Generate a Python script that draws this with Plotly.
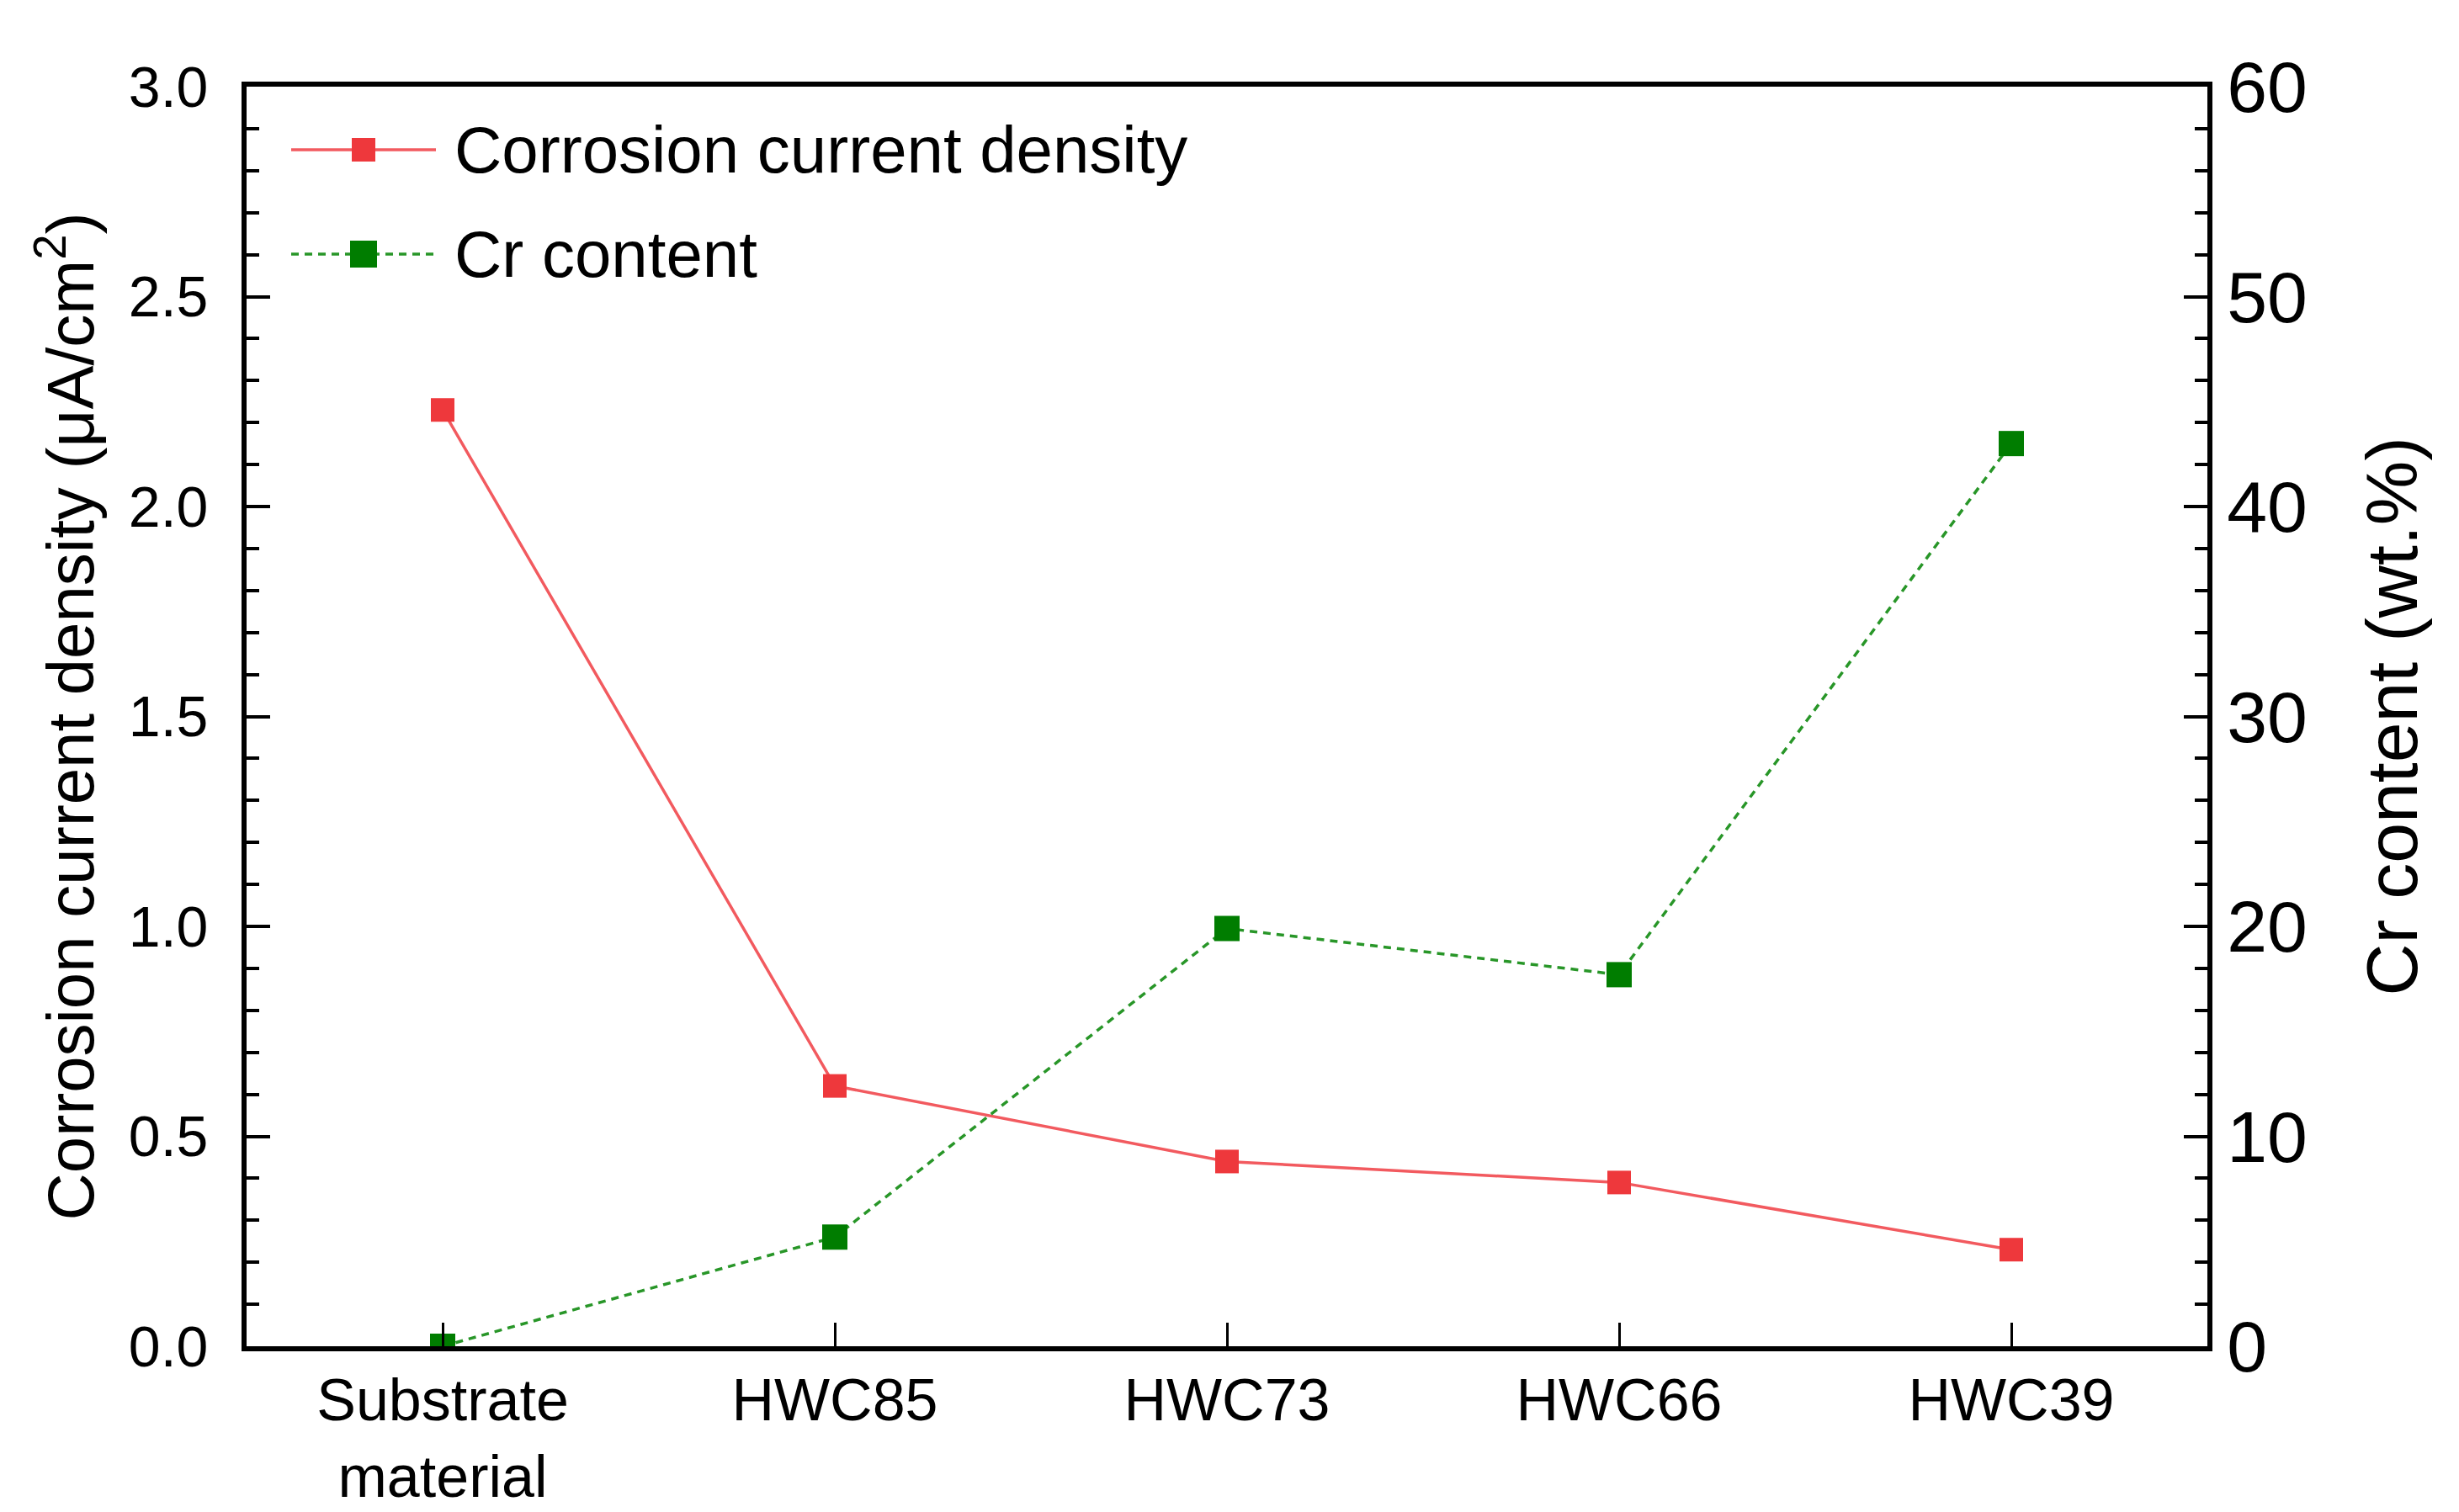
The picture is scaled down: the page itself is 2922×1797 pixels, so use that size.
import plotly.graph_objects as go

categories = ["Substrate<br>material", "HWC85", "HWC73", "HWC66", "HWC39"]
current_density = [2.23, 0.62, 0.44, 0.39, 0.23]
cr_content = [0.0, 5.2, 19.9, 17.7, 43.0]

left_ticks = [0.0, 0.5, 1.0, 1.5, 2.0, 2.5, 3.0]
left_ticktext = ["0.0", "0.5", "1.0", "1.5", "2.0", "2.5", "3.0"]
right_ticks = [0, 10, 20, 30, 40, 50, 60]

series_names = ["Corrosion current density", "Cr content"]

FONT = "Arial, Liberation Sans, sans-serif"
RED = "rgb(238,56,60)"
RED_LINE = "rgb(242,90,95)"
GREEN = "rgb(0,125,0)"
GREEN_LINE = "rgb(40,150,40)"
GREEN_DASH = "9px,7px"

W, H = 2922, 1797
L, R, T, B = 285, 307, 95, 205
PW, PH = W - L - R, H - T - B


def px_x(px):
    return (px - L) / PW


def px_y(py):
    return (H - B - py) / PH


fig = go.Figure()
fig.add_trace(go.Scatter(
    x=categories, y=current_density, name=series_names[0],
    mode="lines+markers",
    line=dict(color=RED_LINE, width=3.5),
    marker=dict(symbol="square", size=28, color=RED),
    yaxis="y", showlegend=False,
))
fig.add_trace(go.Scatter(
    x=categories, y=cr_content, name=series_names[1],
    mode="lines+markers",
    line=dict(color=GREEN_LINE, width=3.5, dash=GREEN_DASH),
    marker=dict(symbol="square", size=30, color=GREEN),
    yaxis="y2", showlegend=False,
))

# Custom legend (long sample lines with large square markers)
legend_rows = [170, 294]
legend_styles = [
    dict(line=RED_LINE, dash="solid", marker=RED, half=14),
    dict(line=GREEN_LINE, dash=GREEN_DASH, marker=GREEN, half=16),
]
shapes = []
annotations = []
for name, row, st in zip(series_names, legend_rows, legend_styles):
    yy = px_y(row)
    shapes.append(dict(type="line", xref="paper", yref="paper",
                       x0=px_x(338), x1=px_x(510), y0=yy, y1=yy,
                       line=dict(color=st["line"], width=3.5, dash=st["dash"])))
    shapes.append(dict(type="rect", xref="paper", yref="paper",
                       xsizemode="pixel", ysizemode="pixel",
                       xanchor=px_x(424), yanchor=yy,
                       x0=-st["half"], x1=st["half"], y0=-st["half"], y1=st["half"],
                       fillcolor=st["marker"], line=dict(width=0)))
    annotations.append(dict(text=name, xref="paper", yref="paper",
                            x=px_x(530), y=yy, xanchor="left", yanchor="middle",
                            showarrow=False,
                            font=dict(family=FONT, size=78, color="black")))

annotations += [
    dict(text="Corrosion current density (μA/cm<sup>2</sup>)", xref="paper", yref="paper",
         x=0, y=0.5, xshift=-214, xanchor="center", yanchor="middle", textangle=-90,
         showarrow=False, font=dict(family=FONT, size=78, color="black")),
    dict(text="Cr content (wt.%)", xref="paper", yref="paper",
         x=1, y=0.5, xshift=218, xanchor="center", yanchor="middle", textangle=-90,
         showarrow=False, font=dict(family=FONT, size=86, color="black")),
]

axis_common = dict(
    showline=True, linecolor="black", linewidth=6,
    ticks="inside", tickcolor="black", showgrid=False, zeroline=False,
)

fig.update_layout(
    width=W, height=H,
    margin=dict(l=L, r=R, t=T, b=B, pad=0),
    paper_bgcolor="white", plot_bgcolor="white",
    font=dict(family=FONT, color="black"),
    showlegend=False,
    xaxis=dict(
        **axis_common, mirror=True,
        type="category", range=[-0.5, 4.5],
        ticklen=28, tickwidth=3,
        tickfont=dict(family=FONT, size=70, color="black"),
        ticklabelstandoff=-2,
    ),
    yaxis=dict(
        **axis_common,
        range=[0, 3.0], tickvals=left_ticks, ticktext=left_ticktext,
        ticklen=28, tickwidth=4,
        minor=dict(ticks="inside", dtick=0.1, ticklen=15, tickwidth=4, tickcolor="black", showgrid=False),
        tickfont=dict(family=FONT, size=68, color="black"),
        ticklabelstandoff=26,
    ),
    yaxis2=dict(
        **axis_common, overlaying="y", side="right",
        range=[0, 60], tickvals=right_ticks,
        ticklen=28, tickwidth=4,
        minor=dict(ticks="inside", dtick=2, ticklen=15, tickwidth=4, tickcolor="black", showgrid=False),
        tickfont=dict(family=FONT, size=86, color="black"),
        ticklabelstandoff=0,
    ),
    shapes=shapes,
    annotations=annotations,
)

fig.write_html("out.html")
